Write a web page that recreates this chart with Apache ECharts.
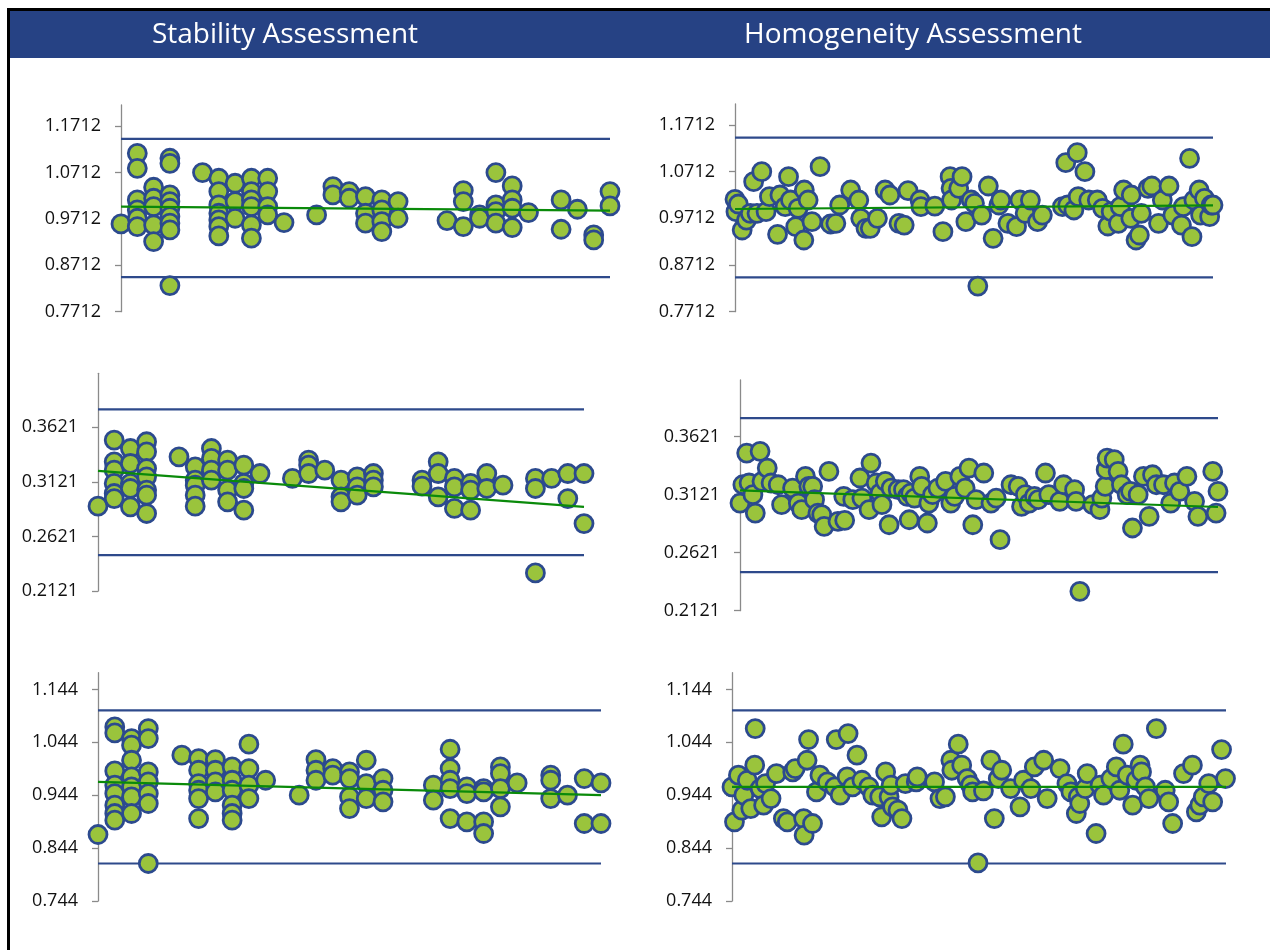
<!DOCTYPE html>
<html>
<head>
<meta charset="utf-8">
<script src="https://cdn.jsdelivr.net/npm/echarts@6/dist/echarts.min.js"></script>
<style>
html,body{margin:0;padding:0;background:#fff}
#c{width:1270px;height:950px}
</style>
</head>
<body>
<div id="c"></div>
<script>
// ---------------- DATA ----------------
const headerTitles = ['Stability Assessment', 'Homogeneity Assessment'];

const ticksTop = ['0.7712', '0.8712', '0.9712', '1.0712', '1.1712'];
const ticksMid = ['0.2121', '0.2621', '0.3121', '0.3621'];
const ticksLow = ['0.744', '0.844', '0.944', '1.044', '1.144'];

// Stability: [time point, result]
const stabilityTop = [
  [0,0.9604],
  [1,1.1126],[1,1.0803],[1,1.0121],[1,0.9906],[1,0.9726],[1,0.9547],
  [2,1.0394],[2,1.0157],[2,0.9978],[2,0.9583],[2,0.9224],
  [3,1.1019],[3,1.0911],[3,1.0229],[3,1.0085],[3,0.9942],[3,0.9762],[3,0.9619],[3,0.9475],[3,0.8276],
  [5,1.0710],
  [6,1.0588],[6,1.0301],[6,1.0014],[6,0.9834],[6,0.9690],[6,0.9547],[6,0.9346],
  [7,1.0480],[7,1.0085],[7,0.9726],
  [8,1.0588],[8,1.0301],[8,1.0121],[8,0.9978],[8,0.9583],[8,0.9296],
  [9,1.0588],[9,1.0301],[9,0.9978],[9,0.9798],
  [10,0.9633],
  [12,0.9798],
  [13,1.0408],[13,1.0229],
  [14,1.0301],[14,1.0157],
  [15,1.0193],[15,0.9834],[15,0.9619],
  [16,1.0121],[16,0.9906],[16,0.9655],[16,0.9439],
  [17,1.0085],[17,0.9726],
  [20,0.9676],
  [21,1.0322],[21,1.0085],[21,0.9547],
  [22,0.9798],[22,0.9726],
  [23,1.0710],[23,1.0014],[23,0.9870],[23,0.9619],
  [24,1.0423],[24,1.0121],[24,0.9942],[24,0.9525],
  [25,0.9848],
  [27,1.0121],[27,0.9489],
  [28,0.9920],
  [29,0.9367],[29,0.9260],
  [30,1.0301],[30,0.9992]
];
const stabilityTopLimits = [1.1435, 0.8456];
const stabilityTopTrend = [0.9978, 0.9892];

const stabilityMid = [
  [0,0.2898],
  [1,0.3503],[1,0.3304],[1,0.3228],[1,0.3106],[1,0.3014],[1,0.2968],
  [2,0.3426],[2,0.3289],[2,0.3106],[2,0.3060],[2,0.2892],
  [3,0.3488],[3,0.3396],[3,0.3243],[3,0.3167],[3,0.3045],[3,0.2999],[3,0.2831],
  [5,0.3350],
  [6,0.3258],[6,0.3136],[6,0.3090],[6,0.2999],[6,0.2898],
  [7,0.3426],[7,0.3335],[7,0.3228],[7,0.3136],
  [8,0.3320],[8,0.3228],[8,0.3045],[8,0.2938],
  [9,0.3274],[9,0.3106],[9,0.3060],[9,0.2861],
  [10,0.3197],
  [12,0.3152],
  [13,0.3320],[13,0.3274],[13,0.3197],
  [14,0.3228],
  [15,0.3136],[15,0.2984],[15,0.2938],
  [16,0.3167],[16,0.3075],[16,0.2999],
  [17,0.3197],[17,0.3136],[17,0.3075],
  [20,0.3136],[20,0.3081],
  [21,0.3304],[21,0.3197],[21,0.2984],
  [22,0.3152],[22,0.3075],[22,0.2877],
  [23,0.3106],[23,0.3045],[23,0.2861],
  [24,0.3197],[24,0.3060],
  [25,0.3090],
  [27,0.3152],[27,0.3060],[27,0.2287],
  [28,0.3152],
  [29,0.3197],[29,0.2968],
  [30,0.3197],[30,0.2739]
];
const stabilityMidLimits = [0.3784, 0.2449];
const stabilityMidTrend = [0.3222, 0.2892];

const stabilityLow = [
  [0,0.8697],
  [1,1.0731],[1,1.0618],[1,0.9900],[1,0.9629],[1,0.9471],[1,0.9251],[1,0.9094],[1,0.8968],
  [2,1.0511],[2,1.0385],[2,1.0101],[2,0.9786],[2,0.9597],[2,0.9409],[2,0.9094],
  [3,1.0700],[3,1.0511],[3,0.9881],[3,0.9692],[3,0.9471],[3,0.9283],[3,0.8149],
  [5,1.0196],
  [6,1.0133],[6,0.9912],[6,0.9660],[6,0.9534],[6,0.9377],[6,0.8999],
  [7,1.0114],[7,0.9912],[7,0.9692],[7,0.9503],
  [8,0.9975],[8,0.9723],[8,0.9534],[8,0.9251],[8,0.9094],[8,0.8968],
  [9,1.0404],[9,0.9944],[9,0.9629],[9,0.9377],
  [10,0.9723],
  [12,0.9440],
  [13,1.0114],[13,0.9912],[13,0.9723],
  [14,0.9944],[14,0.9818],
  [15,0.9881],[15,0.9755],[15,0.9409],[15,0.9188],
  [16,1.0101],[16,0.9660],[16,0.9377],
  [17,0.9755],[17,0.9534],[17,0.9314],
  [20,0.9629],[20,0.9346],
  [21,1.0309],[21,0.9944],[21,0.9723],[21,0.9566],[21,0.8999],
  [22,0.9597],[22,0.9471],[22,0.8936],
  [23,0.9566],[23,0.9503],[23,0.8936],[23,0.8716],
  [24,0.9975],[24,0.9849],[24,0.9566],[24,0.9220],
  [25,0.9673],
  [27,0.9818],[27,0.9723],[27,0.9377],
  [28,0.9440],
  [29,0.9755],[29,0.8905],
  [30,0.9673],[30,0.8905]
];
const stabilityLowLimits = [1.1045, 0.8149];
const stabilityLowTrend = [0.9692, 0.9440];

// Homogeneity: [sample position (0-100), result]
const homogeneityTop = [
  [0,1.0119],[0.2,0.9855],[0.7,1.0019],[1.5,0.9462],[2.4,0.9676],[3.2,0.9819],[3.9,1.0498],[4.6,0.9819],
  [5.6,1.0712],[6.5,0.9855],[7.2,1.0176],[8.9,0.9369],[9.4,1.0212],[10.5,0.9962],[11.2,1.0605],[11.6,1.0105],
  [12.7,0.9533],[13.2,0.9926],[14.4,0.9248],[14.5,1.0319],[15.3,1.0105],[16.1,0.9641],[17.8,1.0819],[20.0,0.9591],
  [21.1,0.9605],[21.9,0.9998],[24.2,1.0319],[25.9,1.0105],[26.3,0.9712],[27.4,0.9498],[28.3,0.9498],[29.8,0.9712],
  [31.4,1.0319],[32.4,1.0212],[34.3,0.9605],[35.4,0.9569],[36.2,1.0305],[38.7,1.0105],[38.9,0.9962],[41.8,0.9976],
  [43.5,0.9426],[45.0,1.0605],[45.2,1.0355],[45.3,1.0105],[46.8,1.0355],[47.5,1.0605],[48.3,0.9641],[49.4,1.0105],
  [50.1,1.0033],[50.8,0.8262],[51.6,0.9783],[53.0,1.0405],[54.0,0.9283],[55.2,0.9998],[55.6,1.0105],[57.1,0.9605],
  [58.9,0.9533],[59.6,1.0105],[60.7,0.9819],[61.8,1.0105],[63.3,0.9641],[64.3,0.9783],[68.5,0.9962],[69.2,1.0905],
  [69.6,0.9998],[70.9,0.9891],[71.6,1.1119],[71.8,1.0176],[73.2,1.0712],[74.0,1.0105],[75.8,1.0105],[76.9,0.9926],
  [78.0,0.9548],[78.7,0.9855],[80.2,0.9605],[80.6,0.9962],[81.3,1.0319],[82.8,0.9712],[82.9,1.0212],[83.9,0.9248],
  [84.6,0.9355],[85.0,0.9819],[86.4,1.0355],[87.2,1.0405],[88.6,0.9605],[89.4,1.0105],[90.8,1.0405],[91.6,0.9783],
  [93.4,0.9569],[93.8,0.9962],[95.1,1.0998],[95.6,0.9319],[96.0,1.0105],[97.1,1.0319],[97.4,0.9783],[98.2,1.0141],
  [99.3,0.9748],[99.6,0.9998],[100,0.9998]
];
const homogeneityTopLimits = [1.1441, 0.8448];
const homogeneityTopTrend = [0.9912, 0.9991];

const homogeneityMid = [
  [0,0.3049],[0.6,0.3207],[1.4,0.3480],[1.9,0.3222],[2.7,0.3121],[3.2,0.2963],[4.2,0.3495],[4.6,0.3236],
  [5.7,0.3351],[6.5,0.3222],[8.0,0.3207],[8.7,0.3035],[11.0,0.3178],[12.2,0.3049],[12.9,0.2992],[13.7,0.3279],
  [14.4,0.3193],[15.2,0.3193],[15.6,0.3078],[16.3,0.2963],[17.1,0.2949],[17.6,0.2848],[18.6,0.3322],[20.5,0.2891],
  [21.7,0.3107],[21.9,0.2900],[23.6,0.3078],[25.1,0.3265],[25.5,0.3092],[27.0,0.2992],[27.4,0.3394],[28.5,0.3222],
  [29.3,0.3135],[29.7,0.3035],[30.4,0.3236],[31.2,0.2862],[31.6,0.3178],[33.1,0.3164],[34.2,0.3164],[35.0,0.3107],
  [35.4,0.2905],[35.7,0.3135],[36.5,0.3092],[37.6,0.3279],[38.0,0.3193],[39.2,0.2877],[39.5,0.3049],[40.3,0.3121],
  [41.4,0.3178],[43.0,0.3236],[44.1,0.3049],[44.9,0.3107],[46.0,0.3279],[47.1,0.3178],[47.9,0.3351],[48.7,0.2862],
  [49.4,0.3078],[51.0,0.3308],[52.5,0.3049],[53.6,0.3092],[54.4,0.2733],[56.7,0.3207],[58.2,0.3193],[58.9,0.3020],
  [59.7,0.3121],[60.5,0.3049],[61.6,0.3107],[62.4,0.3078],[63.9,0.3308],[64.6,0.3121],[66.9,0.3064],[67.7,0.3207],
  [70.0,0.3164],[70.3,0.3064],[71.1,0.2288],[73.8,0.3035],[75.3,0.2992],[75.7,0.3092],[76.4,0.3193],[76.6,0.3337],
  [76.8,0.3437],[78.3,0.3423],[79.1,0.3322],[79.8,0.3207],[81.0,0.3121],[81.7,0.3150],[82.1,0.2834],[83.3,0.3121],
  [84.4,0.3279],[85.6,0.2934],[86.3,0.3293],[87.1,0.3207],[88.6,0.3207],[90.1,0.3049],[90.9,0.3222],[92.0,0.3150],
  [93.5,0.3279],[95.1,0.3064],[95.8,0.2934],[98.9,0.3322],[99.6,0.2963],[100,0.3150]
];
const homogeneityMidLimits = [0.3782, 0.2454];
const homogeneityMidTrend = [0.3158, 0.3015];

const homogeneityLow = [
  [0,0.9597],[0.5,0.8936],[1.3,0.9818],[2.0,0.9157],[2.4,0.9440],[3.1,0.9723],[3.8,0.9188],[4.6,1.0007],
  [4.7,1.0700],[5.7,0.9566],[6.4,0.9251],[6.8,0.9660],[7.9,0.9377],[9.0,0.9849],[10.4,0.8999],[11.2,0.8936],
  [12.3,0.9881],[12.8,0.9944],[14.5,0.8999],[14.6,0.8684],[15.2,1.0101],[15.5,1.0492],[16.3,0.8905],[17.1,0.9503],
  [17.8,0.9818],[19.3,0.9692],[20.8,0.9597],[21.1,1.0492],[21.9,0.9440],[23.3,0.9786],[23.5,1.0605],[24.4,0.9597],
  [25.3,1.0196],[26.3,0.9723],[27.7,0.9597],[28.5,0.9440],[29.9,0.9409],[30.3,0.9031],[31.1,0.9881],[31.8,0.9409],
  [32.2,0.9629],[32.5,0.9220],[33.6,0.9157],[34.4,0.8999],[35.1,0.9660],[37.3,0.9692],[37.5,0.9786],[41.0,0.9692],
  [42.1,0.9377],[43.2,0.9409],[44.3,1.0101],[44.5,0.9912],[45.8,1.0404],[46.5,1.0007],[47.6,0.9755],[48.3,0.9629],
  [48.7,0.9503],[49.8,0.8161],[50.9,0.9522],[52.4,1.0101],[53.1,0.8999],[53.9,0.9755],[54.6,0.9912],[56.4,0.9566],
  [58.3,0.9220],[59.0,0.9723],[60.5,0.9566],[61.2,0.9975],[63.1,1.0101],[63.8,0.9377],[66.4,0.9944],[67.8,0.9660],
  [68.6,0.9503],[69.7,0.9094],[70.1,0.9409],[70.4,0.9283],[71.5,0.9566],[71.9,0.9849],[73.7,0.8716],[74.5,0.9629],
  [75.2,0.9440],[76.7,0.9755],[77.8,0.9975],[78.5,0.9534],[79.2,1.0404],[80.0,0.9818],[81.1,0.9251],[81.8,0.9723],
  [82.6,1.0007],[82.9,0.9881],[83.7,0.9597],[84.4,0.9377],[85.9,1.0700],[87.7,0.9534],[88.4,0.9314],[89.2,0.8905],
  [91.4,0.9849],[93.2,1.0007],[94.0,0.9125],[94.7,0.9251],[95.4,0.9409],[96.5,0.9660],[97.3,0.9314],[99.1,1.0303],
  [99.9,0.9755]
];
const homogeneityLowLimits = [1.1045, 0.8149];
const homogeneityLowTrend = [0.9597, 0.9597];

// ---------------- CHART ----------------
const FONT = '"Open Sans", "Noto Sans", sans-serif';
const panels = [
  {data: stabilityTop, limits: stabilityTopLimits, trend: stabilityTopTrend, ticks: ticksTop, xMax: 30, yMax: 1.2167,
   grid: {left: 121, top: 105, width: 489, height: 206.7}},
  {data: stabilityMid, limits: stabilityMidLimits, trend: stabilityMidTrend, ticks: ticksMid, xMax: 30, yMax: 0.4115,
   grid: {left: 98, top: 373.3, width: 486, height: 217.7}},
  {data: stabilityLow, limits: stabilityLowLimits, trend: stabilityLowTrend, ticks: ticksLow, xMax: 30, yMax: 1.1756,
   grid: {left: 98, top: 672.7, width: 503, height: 228.3}},
  {data: homogeneityTop, limits: homogeneityTopLimits, trend: homogeneityTopTrend, ticks: ticksTop, xMax: 100, yMax: 1.2162,
   grid: {left: 735, top: 104, width: 478, height: 207.7}},
  {data: homogeneityMid, limits: homogeneityMidLimits, trend: homogeneityMidTrend, ticks: ticksMid, xMax: 100, yMax: 0.4110,
   grid: {left: 740, top: 380, width: 478, height: 230.7}},
  {data: homogeneityLow, limits: homogeneityLowLimits, trend: homogeneityLowTrend, ticks: ticksLow, xMax: 100, yMax: 1.1756,
   grid: {left: 732, top: 672.7, width: 494, height: 228.3}}
];

const grids = [], xAxes = [], yAxes = [], series = [];
panels.forEach((p, i) => {
  grids.push(Object.assign({containLabel: false}, p.grid));
  xAxes.push({type: 'value', gridIndex: i, min: 0, max: p.xMax, show: false});
  const tv = p.ticks.map(Number);
  yAxes.push({
    type: 'value', gridIndex: i, min: tv[0], max: p.yMax,
    splitLine: {show: false},
    axisLine: {show: true, onZero: false, lineStyle: {color: '#8a8a8a', width: 1.3}},
    axisTick: {show: true, customValues: tv, length: 6, lineStyle: {color: '#8a8a8a', width: 1.3}},
    axisLabel: {
      customValues: tv, margin: 20, color: '#111', fontSize: 18, fontFamily: FONT,
      formatter: v => { const s = p.ticks.find(t => Math.abs(Number(t) - v) < 1e-6); return s || ''; }
    }
  });
  p.limits.forEach(v => {
    series.push({
      type: 'line', xAxisIndex: i, yAxisIndex: i, silent: true, symbol: 'none',
      data: [[0, v], [p.xMax, v]],
      lineStyle: {color: '#2E4A8B', width: 2.2}, z: 1
    });
  });
  series.push({
    type: 'scatter', xAxisIndex: i, yAxisIndex: i, data: p.data, symbol: 'circle', symbolSize: 18,
    itemStyle: {color: '#9AC43C', borderColor: '#2C4A8E', borderWidth: 2.8, opacity: 1}, z: 2, clip: false
  });
  series.push({
    type: 'line', xAxisIndex: i, yAxisIndex: i, silent: true, symbol: 'none',
    data: [[0, p.trend[0]], [p.xMax, p.trend[1]]],
    lineStyle: {color: '#0A8A0A', width: 2.2}, z: 3
  });
});

const chart = echarts.init(document.getElementById('c'), null, {renderer: 'canvas'});
chart.setOption({
  backgroundColor: '#ffffff',
  animation: false,
  grid: grids,
  xAxis: xAxes,
  yAxis: yAxes,
  series: series,
  graphic: [
    {type: 'rect', shape: {x: 7, y: 8, width: 1263, height: 3}, style: {fill: '#000'}, silent: true},
    {type: 'rect', shape: {x: 7, y: 8, width: 3, height: 942}, style: {fill: '#000'}, silent: true},
    {type: 'rect', shape: {x: 10, y: 11, width: 1260, height: 47}, style: {fill: '#264284'}, silent: true},
    {type: 'text', x: 285, y: 35, style: {text: headerTitles[0], fill: '#ffffff', fontSize: 28, fontFamily: FONT, align: 'center', verticalAlign: 'middle'}},
    {type: 'text', x: 913, y: 35, style: {text: headerTitles[1], fill: '#ffffff', fontSize: 28, fontFamily: FONT, align: 'center', verticalAlign: 'middle'}}
  ]
});
</script>
</body>
</html>
